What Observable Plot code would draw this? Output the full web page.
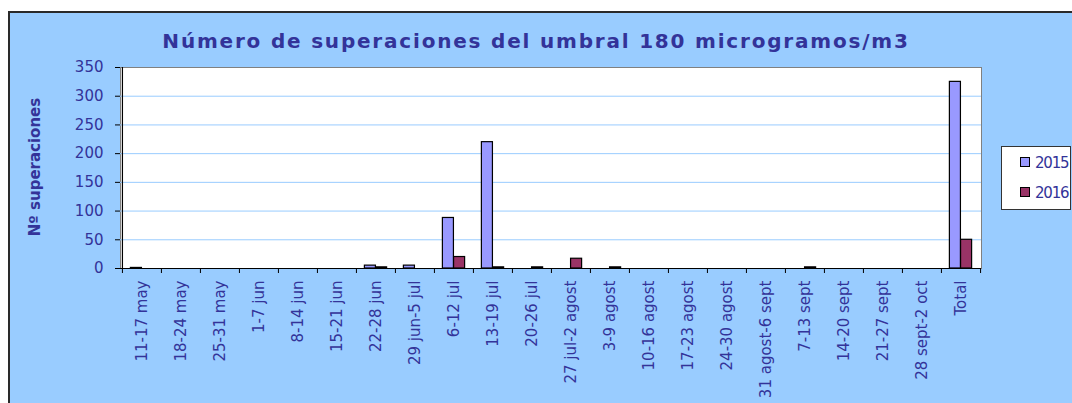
<!DOCTYPE html>
<html>
<head>
<meta charset="utf-8">
<script src="https://cdn.jsdelivr.net/npm/d3@7"></script>
<script src="https://cdn.jsdelivr.net/npm/@observablehq/plot@0.6"></script>
<style>
  html, body { margin: 0; padding: 0; background: #ffffff; }
  #wrap { position: relative; width: 1072px; height: 403px; overflow: hidden; font-family: "DejaVu Sans", sans-serif; }
  #panel { position: absolute; left: 8px; top: 11px; width: 1100px; height: 420px; background: #99CCFF;
           border-top: 2px solid #2a2a2a; border-left: 2px solid #2a2a2a; }
  #title { position: absolute; left: 0; top: 31px; width: 1072px; text-align: center; font-weight: bold;
           font-size: 20px; line-height: 20px; color: #333399; letter-spacing: 1.8px; white-space: nowrap; }
  #ylabel { position: absolute; left: 35px; top: 167px; transform: translate(-50%, -50%) rotate(-90deg);
            font-weight: bold; font-size: 15px; line-height: 15px; color: #333399; white-space: nowrap; }
  #chart { position: absolute; left: 0; top: 0; }
  #legend { position: absolute; left: 1001px; top: 146px; width: 68px; height: 62px; background: #ffffff;
            border: 1px solid #333333; }
  .item { position: absolute; left: 18px; height: 14px; font-size: 15px; line-height: 14px; color: #333399;
          letter-spacing: -1.2px; white-space: nowrap; }
  .sw { display: inline-block; width: 8px; height: 8px; border: 1px solid #000; margin-right: 5px; vertical-align: 1px; }
</style>
</head>
<body>
<div id="wrap">
  <div id="panel"></div>
  <div id="title">Número de superaciones del umbral 180 microgramos/m3</div>
  <div id="ylabel">Nº superaciones</div>
  <div id="chart"></div>
  <div id="legend"></div>
</div>
<script>
const categories = ["11-17 may","18-24 may","25-31 may","1-7 jun","8-14 jun","15-21 jun","22-28 jun",
  "29 jun-5 jul","6-12 jul","13-19 jul","20-26 jul","27 jul-2 agost","3-9 agost","10-16 agost",
  "17-23 agost","24-30 agost","31 agost-6 sept","7-13 sept","14-20 sept","21-27 sept","28 sept-2 oct","Total"];
const series = ["2015", "2016"];
const v2015 = [1,0,0,0,0,0,5,5,88,220,0,0,0,0,0,0,0,0,0,0,0,325];
const v2016 = [0,0,0,0,0,0,2,0,20,2,2,17,2,0,0,0,0,2,0,0,0,50];
const yTicks = [0,50,100,150,200,250,300,350];
const colors = ["#9999FF", "#993366"];

const W = 1072, H = 403, ML = 120, MR = 91, MT = 67, MB = 135;
const bw = (W - ML - MR) / categories.length;
const barW = bw / 3.5;
const outer = (bw - 2 * barW) / 2;

const rows2015 = categories.map((c, i) => ({cat: c, value: v2015[i]})).filter(d => d.value > 0);
const rows2016 = categories.map((c, i) => ({cat: c, value: v2016[i]})).filter(d => d.value > 0);

const chart = Plot.plot({
  width: W, height: H,
  marginLeft: ML, marginRight: MR, marginTop: MT, marginBottom: MB,
  style: {background: "transparent", color: "#333399", fontFamily: "DejaVu Sans, sans-serif", overflow: "visible"},
  x: {type: "band", domain: categories, padding: 0, label: null},
  y: {domain: [0, 350], range: [H - MB, MT], label: null},
  marks: [
    Plot.frame({fill: "white", stroke: "#808080"}),
    Plot.gridY({ticks: [50,100,150,200,250,300], stroke: "#99CCFF", strokeOpacity: 1}),
    Plot.barY(rows2015, {x: "cat", y: "value", fill: colors[0], stroke: "black", strokeWidth: 1.2,
      insetLeft: outer, insetRight: outer + barW}),
    Plot.barY(rows2016, {x: "cat", y: "value", fill: colors[1], stroke: "black", strokeWidth: 1.2,
      insetLeft: outer + barW, insetRight: outer}),
    Plot.ruleY([0], {stroke: "black", strokeWidth: 1.2}),
    Plot.ruleX([categories[0]], {stroke: "black", strokeWidth: 1.2, dx: -bw / 2}),
    Plot.axisY({ticks: yTicks, tickSize: 5, tickPadding: 12, fontSize: 15, stroke: "black", label: null}),
    Plot.axisX({tickSize: 0, tickPadding: 12, tickRotate: -90, fontSize: 15, label: null}),
    Plot.axisX({tickSize: 5, tickFormat: () => "", stroke: "black", dx: -bw / 2, label: null}),
    Plot.axisX({ticks: [categories[categories.length - 1]], tickSize: 5, tickFormat: () => "", stroke: "black", dx: bw / 2, label: null})
  ]
});
document.getElementById("chart").appendChild(chart);

const legend = document.getElementById("legend");
series.forEach((s, i) => {
  const it = document.createElement("div");
  it.className = "item";
  it.style.top = (9 + i * 30) + "px";
  const sw = document.createElement("span");
  sw.className = "sw";
  sw.style.background = colors[i];
  it.appendChild(sw);
  it.appendChild(document.createTextNode(s));
  legend.appendChild(it);
});
</script>
</body>
</html>
